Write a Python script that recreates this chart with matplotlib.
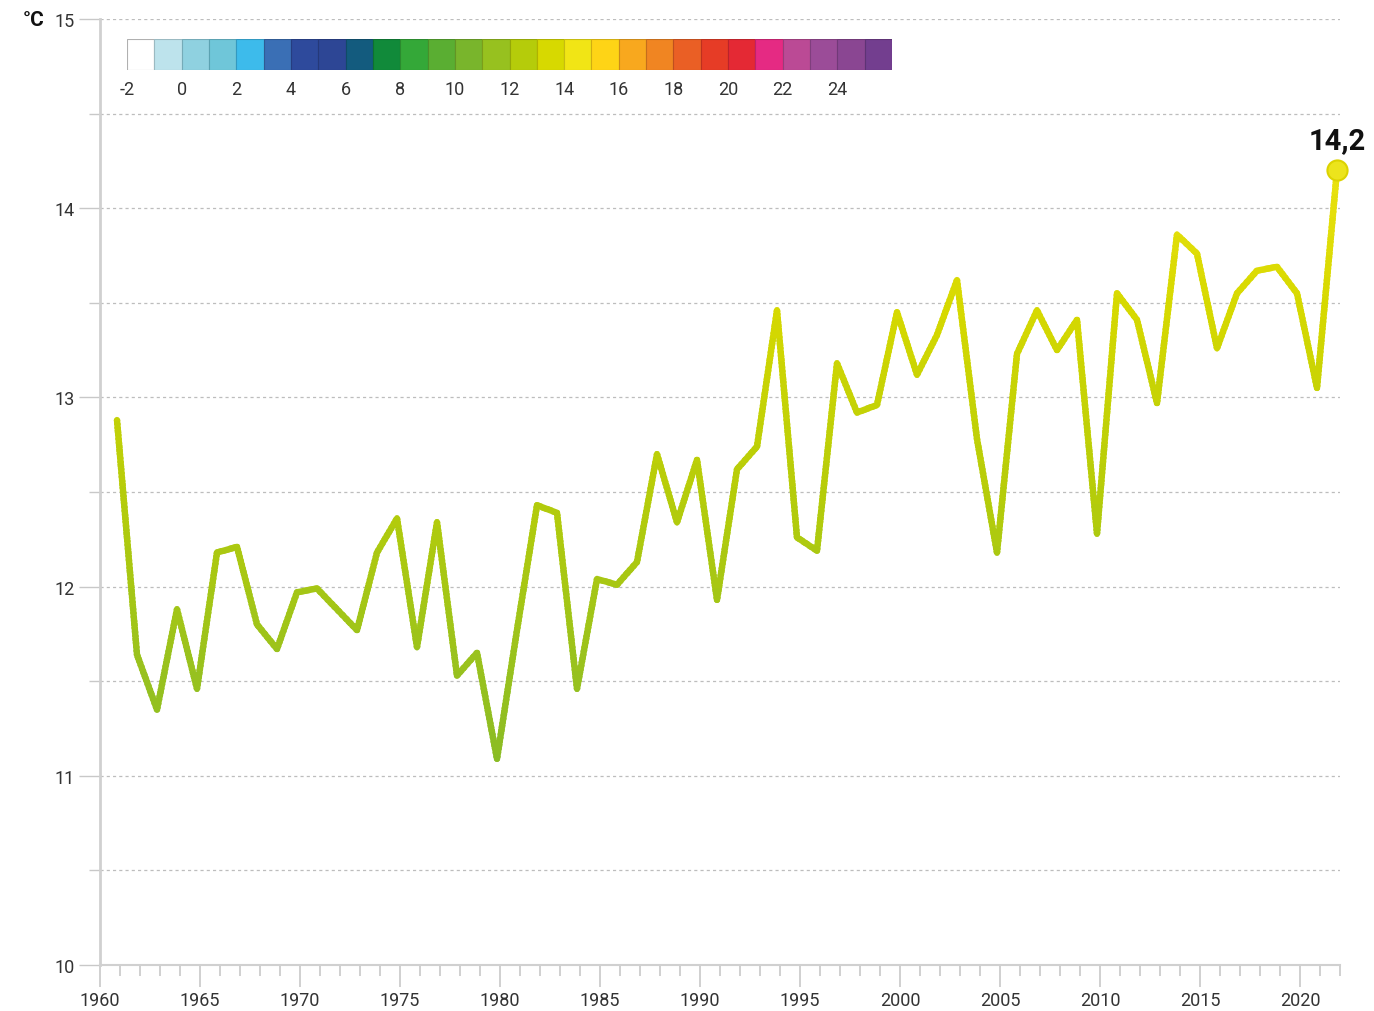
import matplotlib
matplotlib.use("Agg")
import matplotlib.pyplot as plt
import matplotlib.transforms as mtransforms
import numpy as np
from matplotlib.colors import LinearSegmentedColormap, Normalize
from matplotlib.patches import Rectangle
from matplotlib.ticker import MultipleLocator

plt.rcParams['font.family'] = ['Roboto', 'DejaVu Sans']

# Annual mean temperature (°C)
years = list(range(1961, 2023))
temps = [12.88, 11.64, 11.35, 11.88, 11.46, 12.18, 12.21, 11.80, 11.67, 11.97,
         11.99, 11.88, 11.77, 12.18, 12.36, 11.68, 12.34, 11.53, 11.65, 11.09,
         11.77, 12.43, 12.39, 11.46, 12.04, 12.01, 12.13, 12.70, 12.34, 12.67,
         11.93, 12.62, 12.74, 13.46, 12.26, 12.19, 13.18, 12.92, 12.96, 13.45,
         13.12, 13.33, 13.62, 12.78, 12.18, 13.23, 13.46, 13.25, 13.41, 12.28,
         13.55, 13.41, 12.97, 13.86, 13.76, 13.26, 13.55, 13.67, 13.69, 13.55,
         13.05, 14.2]

# Temperature colour scale: one colour per 1 °C step from -2 to 26
scale_bounds = list(range(-2, 27))
scale_colors = ['#ffffff', '#bde3ec', '#8fd1e0', '#6fc6d9', '#3dbbeb', '#3a6fb5',
                '#2e4a9c', '#2d4695', '#135b7e', '#118a3a', '#34a838', '#5aae32',
                '#79b52c', '#97c11f', '#b5cc0a', '#d7d900', '#f1e515', '#fed416',
                '#f8a81e', '#f08522', '#ea5f25', '#e63c26', '#e42934', '#e52a83',
                '#bb4a95', '#9b4c98', '#8a4692', '#733e8f']
scale_ticks = list(range(-2, 25, 2))

W, H = 1374, 1012
fig = plt.figure(figsize=(W / 100, H / 100), dpi=100)
ax = fig.add_axes([100 / W, 1 - 966 / H, 1240 / W, 946 / H])

ax.set_xlim(1960, 2022)
ax.set_ylim(10, 15)

grey = '#c8c8c8'
text_col = '#333333'

# Dashed horizontal grid every 0.5 °C
ax.set_yticks([10, 11, 12, 13, 14, 15])
ax.set_yticklabels(['10', '11', '12', '13', '14', '15'])
ax.yaxis.set_minor_locator(MultipleLocator(0.5))
for v in np.arange(10.5, 15.01, 0.5):
    ax.axhline(v, color='#bdbdbd', lw=0.9, ls=(0, (2.5, 2.5)), zorder=0)

for s in ['top', 'right']:
    ax.spines[s].set_visible(False)
ax.spines['left'].set_color('#d0d0d0')
ax.spines['left'].set_linewidth(2)
ax.spines['bottom'].set_color('#d0d0d0')
ax.spines['bottom'].set_linewidth(1.5)

ax.xaxis.set_major_locator(MultipleLocator(5))
ax.xaxis.set_minor_locator(MultipleLocator(1))
ax.tick_params(axis='x', which='major', length=16, width=1.2, color=grey,
               labelsize=13, labelcolor=text_col, pad=3)
ax.tick_params(axis='x', which='minor', length=8, width=1.2, color=grey)
ax.tick_params(axis='y', which='major', length=15, width=1, color=grey,
               labelsize=13, labelcolor=text_col, pad=3)
ax.tick_params(axis='y', which='minor', length=8, width=1, color=grey)

ax.text(-0.0445, 1.0, '°C', transform=ax.transAxes, fontsize=15,
        fontweight='bold', color='#111111', ha='right', va='center')

# Series sits slightly left of the year ticks
shift = mtransforms.ScaledTranslation(-3 / 100, 0, fig.dpi_scale_trans)
data_tr = ax.transData + shift

# Line coloured by temperature: the same series drawn in thin horizontal bands
pos = [(b + 0.5 - (-2)) / 28 for b in scale_bounds[:-1]]
line_cmap = LinearSegmentedColormap.from_list(
    'tempgrad', list(zip([0.0] + pos + [1.0],
                         [scale_colors[0]] + scale_colors + [scale_colors[-1]])))
line_norm = Normalize(-2, 26)
lo, hi, step = 10.8, 14.6, 0.02
for e in np.arange(lo, hi, step):
    c = line_cmap(line_norm(e + step / 2))
    ln, = ax.plot(years, temps, color=c, lw=4.6, solid_capstyle='round',
                  solid_joinstyle='round', zorder=3, transform=data_tr)
    clip = Rectangle((1955, e - step * 0.3), 80, step * 1.6, transform=ax.transData)
    ln.set_clip_path(clip)

# Highlight the latest year
ax.plot([years[-1]], [temps[-1]], 'o', ms=14.5, mfc='#ece41c', mec='#dcd300',
        mew=1.5, zorder=5, clip_on=False, transform=data_tr)
ax.annotate(f'{temps[-1]:.1f}'.replace('.', ','), (years[-1], temps[-1]),
            xycoords=data_tr, xytext=(0, 12), textcoords='offset points',
            ha='center', va='bottom', fontsize=21, fontweight='bold',
            color='#111111', zorder=6)

# Colour scale legend
cax = fig.add_axes([127 / W, 1 - 71 / H, 765 / W, 31 / H])
for i, col in enumerate(scale_colors):
    edge = '#b0b0b0' if i == 0 else matplotlib.colors.to_hex(
        np.array(matplotlib.colors.to_rgb(col)) * 0.82)
    cax.add_patch(Rectangle((scale_bounds[i], 0), 1, 1, facecolor=col,
                            edgecolor=edge, lw=0.8))
cax.set_xlim(-2, 26)
cax.set_ylim(0, 1)
cax.set_yticks([])
cax.set_xticks(scale_ticks)
cax.set_xticklabels([str(t) if t >= 0 else '-' + str(-t) for t in scale_ticks])
cax.tick_params(axis='x', length=0, labelsize=13, labelcolor=text_col, pad=7)
for s in cax.spines.values():
    s.set_visible(False)

fig.savefig('out.png', dpi=100, facecolor='white')
